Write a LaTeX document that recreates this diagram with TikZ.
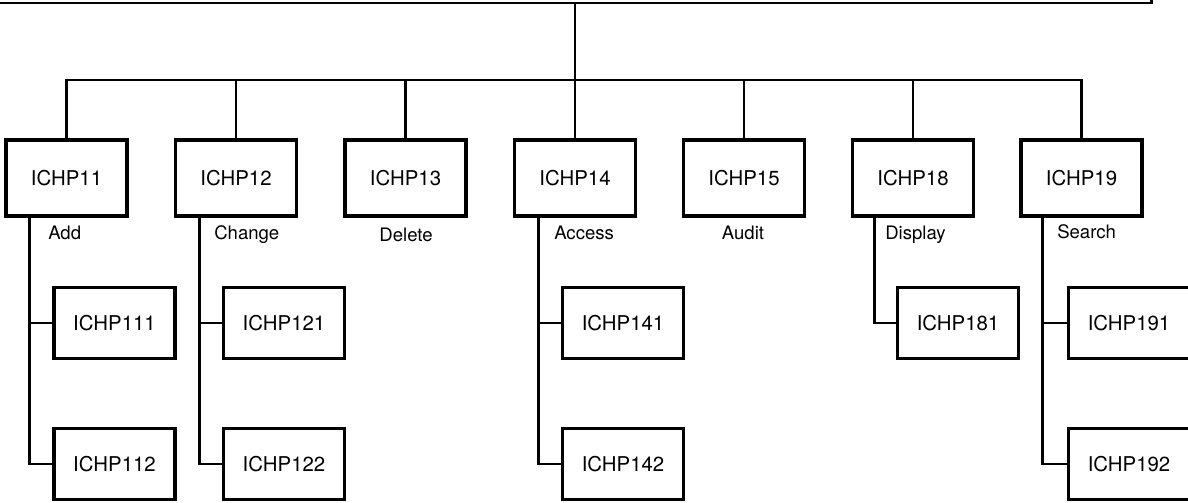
\documentclass[tikz,border=0pt]{standalone}
\usepackage{fontspec}
\setmainfont{TeX Gyre Heros}

\tikzset{
  link/.style={line width=2.1pt},
  prog/.style={draw, line width=2.6pt, minimum width=3.03cm, minimum height=1.9cm, inner sep=0pt, font=\fontsize{14.5}{16}\selectfont},
  subprog/.style={prog, minimum height=1.78cm},
  lbl/.style={font=\fontsize{13.2}{15}\selectfont, inner sep=0pt}
}

\begin{document}
\begin{tikzpicture}[x=0.025cm, y=-0.025cm, line join=miter]
	\useasboundingbox (0,0) rectangle (1188,502);
	\clip (0,0) rectangle (1188,502);
	
	% top box, only its lower edge shows
	\node[draw, link, minimum width=28.9cm, minimum height=2.15cm] (main) at (573.5,-40) {};
	\coordinate (bus) at (0,80);
	
	\node[prog] (ICHP11) at (66.5,178) {ICHP11};
	\node[prog] (ICHP12) at (236,178) {ICHP12};
	\node[prog] (ICHP13) at (405.5,178) {ICHP13};
	\node[prog] (ICHP14) at (575,178) {ICHP14};
	\node[prog] (ICHP15) at (744,178) {ICHP15};
	\node[prog] (ICHP18) at (913,178) {ICHP18};
	\node[prog] (ICHP19) at (1081.5,178) {ICHP19};
	
	\draw[link] (ICHP14.north |- main.south) -- (ICHP14.north);
	\draw[link] (ICHP11.north) -- (ICHP11.north |- bus) -- (ICHP19.north |- bus) -- (ICHP19.north);
	\foreach \n in {12,13,15,18}
		\draw[link] (ICHP\n.north |- bus) -- (ICHP\n.north);
	
	\node[subprog] (ICHP111) at (114.5,323) {ICHP111};
	\node[subprog] (ICHP112) at (114.5,464) {ICHP112};
	\node[subprog] (ICHP121) at (284,323) {ICHP121};
	\node[subprog] (ICHP122) at (284,464) {ICHP122};
	\node[subprog] (ICHP141) at (623,323) {ICHP141};
	\node[subprog] (ICHP142) at (623,464) {ICHP142};
	\node[subprog] (ICHP181) at (958,323) {ICHP181};
	\node[subprog] (ICHP191) at (1129,323) {ICHP191};
	\node[subprog] (ICHP192) at (1129,464) {ICHP192};
	
	% side branches
	\coordinate (t11) at ([xshift=-0.575cm]ICHP111.west);
	\coordinate (t12) at ([xshift=-0.55cm]ICHP121.west);
	\coordinate (t14) at ([xshift=-0.55cm]ICHP141.west);
	\coordinate (t18) at ([xshift=-0.525cm]ICHP181.west);
	\coordinate (t19) at ([xshift=-0.6cm]ICHP191.west);
	
	\draw[link] (t11 |- ICHP11.south) |- (ICHP112.west);
	\draw[link] (t11) -- (ICHP111.west);
	\draw[link] (t12 |- ICHP12.south) |- (ICHP122.west);
	\draw[link] (t12) -- (ICHP121.west);
	\draw[link] (t14 |- ICHP14.south) |- (ICHP142.west);
	\draw[link] (t14) -- (ICHP141.west);
	\draw[link] (t18 |- ICHP18.south) |- (ICHP181.west);
	\draw[link] (t19 |- ICHP19.south) |- (ICHP192.west);
	\draw[link] (t19) -- (ICHP191.west);
	
	\node[lbl, anchor=base west] (add) at (48,239) {Add};
	\node[lbl, anchor=base west] (change) at (214,239) {Change};
	\node[lbl, anchor=base] (delete) at (406,241) {Delete};
	\node[lbl, anchor=base west] (access) at (554,239) {Access};
	\node[lbl, anchor=base] (audit) at (743,239) {Audit};
	\node[lbl, anchor=base west] (display) at (885,239) {Display};
	\node[lbl, anchor=base west] (search) at (1057,238) {Search};
\end{tikzpicture}
\end{document}
